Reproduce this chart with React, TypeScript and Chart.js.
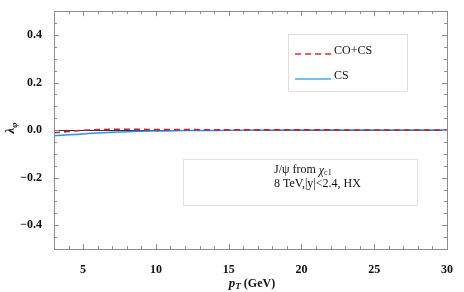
import React, { useEffect, useRef } from "react";
import { Chart, registerables } from "chart.js";

Chart.register(...registerables);

const ptValues = [3, 4, 5, 6, 7, 8, 9, 10, 12, 15, 20, 25, 30];
const coPlusCs = [-0.011, -0.006, -0.001, 0.002, 0.003, 0.003, 0.003, 0.002, 0.002, 0.001, 0.001, 0.0005, 0.0005];
const csOnly = [-0.024, -0.02, -0.016, -0.012, -0.009, -0.007, -0.005, -0.004, -0.002, -0.001, 0, 0, 0];
const xTickValues = [5, 10, 15, 20, 25, 30];
const yTickValues = [-0.4, -0.2, 0, 0.2, 0.4];
const seriesLabels = ["CO+CS", "CS"];
const lineColors = ["#c8202c", "#2a93e8"];
const legendColors = ["#ee2a2a", "#4aa8ee"];
const legendDashed = [true, false];
const noteLines = ["J/ψ from ", "8 TeV,|y|<2.4, HX"];

const FRAME = "#8c8c8c";
const SERIF = "'Liberation Serif', 'DejaVu Serif', serif";

const framePlugin = {
  id: "framePlugin",
  afterDraw(chart: any) {
    const { ctx, chartArea: a, scales } = chart;
    const xs = scales.x;
    const ys = scales.y;
    ctx.save();
    ctx.strokeStyle = FRAME;
    ctx.lineWidth = 1;
    ctx.strokeRect(Math.round(a.left) + 0.5, Math.round(a.top) + 0.5, Math.round(a.right - a.left), Math.round(a.bottom - a.top));

    for (let v = 4; v <= 29; v++) {
      const px = Math.round(xs.getPixelForValue(v)) + 0.5;
      const len = v % 5 === 0 ? 5 : 3;
      ctx.beginPath();
      ctx.moveTo(px, a.bottom);
      ctx.lineTo(px, a.bottom - len);
      ctx.moveTo(px, a.top);
      ctx.lineTo(px, a.top + len);
      ctx.stroke();
    }
    for (let i = -9; i <= 9; i++) {
      const v = i * 0.05;
      const py = Math.round(ys.getPixelForValue(v)) + 0.5;
      const len = i % 4 === 0 ? 5 : 3;
      ctx.beginPath();
      ctx.moveTo(a.left, py);
      ctx.lineTo(a.left + len, py);
      ctx.moveTo(a.right, py);
      ctx.lineTo(a.right - len, py);
      ctx.stroke();
    }

    ctx.fillStyle = "#111";
    ctx.textBaseline = "middle";
    const xt = 252;
    const yt = 285;
    ctx.font = `italic bold 13px ${SERIF}`;
    ctx.textAlign = "left";
    const pW = ctx.measureText("p").width;
    ctx.font = `italic bold 9px ${SERIF}`;
    const tW = ctx.measureText("T").width;
    ctx.font = `bold 12px ${SERIF}`;
    const gW = ctx.measureText(" (GeV)").width;
    let sx = xt - (pW + tW + gW) / 2;
    ctx.font = `italic bold 13px ${SERIF}`;
    ctx.fillText("p", sx, yt - 1);
    sx += pW;
    ctx.font = `italic bold 9px ${SERIF}`;
    ctx.fillText("T", sx, yt + 2);
    sx += tW;
    ctx.font = `bold 12px ${SERIF}`;
    ctx.fillText(" (GeV)", sx, yt - 1);

    ctx.save();
    ctx.translate(12, 128);
    ctx.rotate(-Math.PI / 2);
    ctx.font = `italic bold 13px ${SERIF}`;
    const lW = ctx.measureText("λ").width;
    ctx.font = `italic bold 9px ${SERIF}`;
    const fW = ctx.measureText("φ").width;
    let lx = -(lW + fW) / 2;
    ctx.font = `italic bold 13px ${SERIF}`;
    ctx.fillText("λ", lx, -1);
    lx += lW;
    ctx.font = `italic bold 9px ${SERIF}`;
    ctx.fillText("φ", lx, 3);
    ctx.restore();

    // legend box
    ctx.strokeStyle = "#dedede";
    ctx.lineWidth = 1;
    ctx.strokeRect(288.5, 34.5, 119, 57);
    const lineRows = [54, 79];
    const textRows = [51, 76];
    seriesLabels.forEach((label, i) => {
      const ry = lineRows[i];
      ctx.strokeStyle = legendColors[i];
      ctx.lineWidth = 1.6;
      ctx.setLineDash(legendDashed[i] ? [6, 4] : []);
      ctx.beginPath();
      ctx.moveTo(295, ry);
      ctx.lineTo(331, ry);
      ctx.stroke();
      ctx.setLineDash([]);
      ctx.fillStyle = "#111";
      ctx.font = `12px ${SERIF}`;
      ctx.textAlign = "left";
      ctx.fillText(label, 334, textRows[i]);
    });

    // annotation box
    ctx.strokeStyle = "#e2e2e2";
    ctx.lineWidth = 1;
    ctx.strokeRect(183.5, 159.5, 234, 46);
    ctx.fillStyle = "#111";
    ctx.font = `12px ${SERIF}`;
    let nx = 274;
    ctx.fillText(noteLines[0], nx, 170);
    nx += ctx.measureText(noteLines[0]).width;
    ctx.font = `italic 12px ${SERIF}`;
    ctx.fillText("χ", nx, 171);
    nx += ctx.measureText("χ").width;
    ctx.font = `8px ${SERIF}`;
    ctx.fillText("c1", nx, 173);
    ctx.font = `12px ${SERIF}`;
    ctx.fillText(noteLines[1], 274, 184);
    ctx.restore();
  },
};

const zeroLinePlugin = {
  id: "zeroLinePlugin",
  beforeDatasetsDraw(chart: any) {
    const { ctx, chartArea: a, scales } = chart;
    const y0 = Math.round(scales.y.getPixelForValue(0)) + 0.5;
    ctx.save();
    ctx.strokeStyle = "#333";
    ctx.lineWidth = 1;
    ctx.beginPath();
    ctx.moveTo(a.left, y0);
    ctx.lineTo(a.right, y0);
    ctx.stroke();
    ctx.restore();
  },
};

export default function App() {
  const ref = useRef<HTMLCanvasElement | null>(null);
  useEffect(() => {
    if (!ref.current) return;
    const chart = new Chart(ref.current, {
      type: "line",
      data: {
        datasets: [
          {
            label: seriesLabels[0],
            data: ptValues.map((x, i) => ({ x, y: coPlusCs[i] })),
            borderColor: lineColors[0],
            borderWidth: 1.6,
            borderDash: [6, 4],
            pointRadius: 0,
            cubicInterpolationMode: "monotone",
            fill: false,
          },
          {
            label: seriesLabels[1],
            data: ptValues.map((x, i) => ({ x, y: csOnly[i] })),
            borderColor: lineColors[1],
            borderWidth: 1.5,
            pointRadius: 0,
            cubicInterpolationMode: "monotone",
            fill: false,
          },
        ],
      },
      options: {
        animation: false,
        responsive: false,
        events: [],
        layout: { padding: { top: 7, right: 17, left: 0, bottom: 0 } },
        plugins: { legend: { display: false }, tooltip: { enabled: false } },
        scales: {
          x: {
            type: "linear",
            min: 3,
            max: 30,
            grid: { display: false },
            border: { display: false },
            afterBuildTicks: (s: any) => {
              s.ticks = xTickValues.map((v) => ({ value: v }));
            },
            afterFit: (s: any) => {
              s.height = 43;
            },
            ticks: {
              padding: 6,
              color: "#111",
              font: { family: SERIF, size: 12, weight: "bold" },
              callback: (v: any) => String(v),
              maxRotation: 0,
            },
          },
          y: {
            type: "linear",
            min: -0.5,
            max: 0.5,
            grid: { display: false },
            border: { display: false },
            afterBuildTicks: (s: any) => {
              s.ticks = yTickValues.map((v) => ({ value: v }));
            },
            afterFit: (s: any) => {
              s.width = 54;
            },
            ticks: {
              padding: 4,
              color: "#111",
              font: { family: SERIF, size: 12, weight: "bold" },
              callback: (v: any) => {
                const n = Number(v);
                const t = Math.abs(n).toFixed(1);
                return n < 0 ? "\u2212" + t : t;
              },
            },
          },
        },
      } as any,
      plugins: [zeroLinePlugin, framePlugin],
    });
    return () => chart.destroy();
  }, []);
  return (
    <div style={{ position: "absolute", left: 0, top: 0, width: 464, height: 292, background: "#fff" }}>
      <canvas ref={ref} width={464} height={292} style={{ width: 464, height: 292, display: "block" }} />
    </div>
  );
}
